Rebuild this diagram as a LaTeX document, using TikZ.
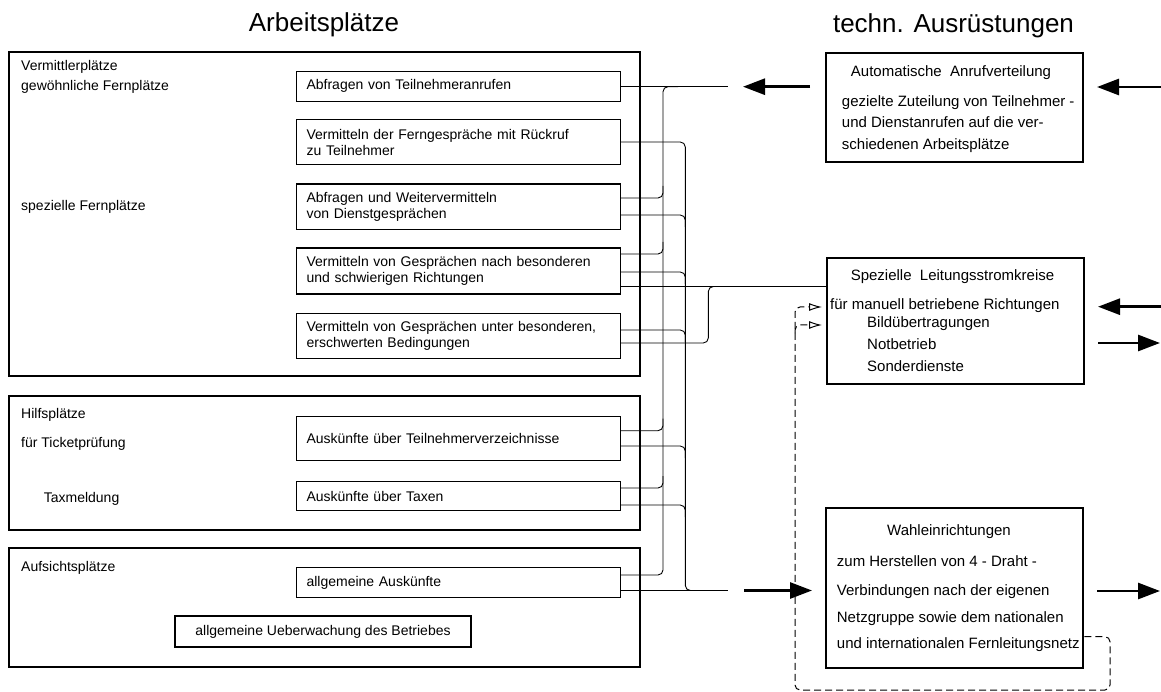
\documentclass[tikz,border=0pt]{standalone}
\usepackage{fontspec}
\setmainfont{Liberation Sans}
\usetikzlibrary{arrows.meta,calc}
\begin{document}
\begin{tikzpicture}[x=1pt,y=-1pt,
  bigbox/.style={draw, line width=2.2pt, anchor=north west, inner sep=0pt},
  rbox/.style={draw, line width=2.4pt, anchor=north west, inner sep=0pt},
  sbox/.style={draw, line width=1.1pt, anchor=north west, text width=304pt, inner xsep=10pt, inner ysep=0pt, align=left, font=\fontsize{14}{16}\selectfont},
  cbox/.style={draw, line width=1.1pt, inner sep=0pt, align=center, font=\fontsize{14}{16}\selectfont},
  lbl/.style={anchor=base west, inner sep=0pt, font=\fontsize{14}{16}\selectfont},
  rtxt/.style={anchor=base west, inner sep=0pt, font=\fontsize{15}{17}\selectfont},
  rhead/.style={anchor=base, inner sep=0pt, font=\fontsize{15}{17}\selectfont},
  title/.style={anchor=base, inner sep=0pt, font=\fontsize{26}{29}\selectfont},
  wire/.style={line width=0.9pt, rounded corners=5pt},
  bigarrow/.style={line width=2.8pt, arrows={-Triangle[length=22pt,width=16pt]}},
  dashline/.style={line width=1pt, dash pattern=on 7pt off 4pt, rounded corners=5pt},
  openarrow/.style={arrows={-Latex[open,length=13pt,width=8pt]}, shorten >=4pt}
]
\useasboundingbox (0,0) rectangle (1161,692);

% titles
\node[title] (t1) at (324,32) {Arbeitsplätze};
\node[title] (t2) at (953.5,33) {techn. Ausrüstungen};

% big boxes
\node[bigbox, minimum width=631pt, minimum height=324pt] (gA) at (8,51) {};
\node[bigbox, minimum width=631pt, minimum height=134pt] (gB) at (8,395) {};
\node[bigbox, minimum width=631pt, minimum height=119pt] (gC) at (8,547) {};

% left labels
\node[lbl] (l1) at (21,71) {Vermittlerplätze};
\node[lbl] (l2) at (21,91) {gewöhnliche Fernplätze};
\node[lbl] (l3) at (21,211) {spezielle Fernplätze};
\node[lbl] (l4) at (21,418) {Hilfsplätze};
\node[lbl] (l5) at (21,447) {für Ticketprüfung};
\node[lbl] (l6) at (43.6,502) {Taxmeldung};
\node[lbl] (l7) at (21,571) {Aufsichtsplätze};

% small boxes
\node[sbox, minimum height=30pt] (b1) at (296,70.7) {Abfragen von Teilnehmeranrufen};
\node[sbox, minimum height=45pt] (b2) at (296,119) {Vermitteln der Ferngespräche mit Rückruf\\zu Teilnehmer};
\node[sbox, minimum height=45.5pt] (b3) at (296,183.5) {Abfragen und Weitervermitteln\\von Dienstgesprächen};
\node[sbox, minimum height=46pt] (b4) at (296,247.5) {Vermitteln von Gesprächen nach besonderen\\und schwierigen Richtungen};
\node[sbox, minimum height=45pt] (b5) at (296,313) {Vermitteln von Gesprächen unter besonderen,\\erschwerten Bedingungen};
\node[sbox, minimum height=44.3pt] (tv) at (296,415.7) {Auskünfte über Teilnehmerverzeichnisse};
\node[sbox, minimum height=29pt] (tx) at (296,481) {Auskünfte über Taxen};
\node[sbox, minimum height=30pt] (aa) at (296,567) {allgemeine Auskünfte};
\node[cbox, minimum width=296pt, minimum height=31pt] (ub) at (323,631.5) {allgemeine Ueberwachung des Betriebes};

% right boxes
\node[rbox, minimum width=257pt, minimum height=109pt] (auto) at (825,51.7) {};
\node[rhead] (auto0) at (951,76.5) {Automatische\ \ Anrufverteilung};
\node[rtxt] (auto1) at (841.7,106.7) {gezielte Zuteilung von Teilnehmer -};
\node[rtxt] (auto2) at (841.7,128) {und Dienstanrufen auf die ver-};
\node[rtxt] (auto3) at (841.7,150) {schiedenen Arbeitsplätze};

\node[rbox, minimum width=257pt, minimum height=126pt] (spez) at (826,257) {};
\node[rhead] (spez0) at (952.5,281) {Spezielle\ \ Leitungsstromkreise};
\node[rtxt] (spez1) at (830,309) {für manuell betriebene Richtungen};
\node[rtxt] (spez2) at (867,327.7) {Bildübertragungen};
\node[rtxt] (spez3) at (867,349) {Notbetrieb};
\node[rtxt] (spez4) at (867,371) {Sonderdienste};

\node[rbox, minimum width=257pt, minimum height=160pt] (wahl) at (825,506.7) {};
\node[rhead] (wahl0) at (949,535) {Wahleinrichtungen};
\node[rtxt] (wahl1) at (836.7,566) {zum Herstellen von 4 - Draht -};
\node[rtxt] (wahl2) at (836.7,595.7) {Verbindungen nach der eigenen};
\node[rtxt] (wahl3) at (836.7,622.3) {Netzgruppe sowie dem nationalen};
\node[rtxt] (wahl4) at (836.7,648.3) {und internationalen Fernleitungsnetz};

% bus coordinates
\coordinate (busA) at (663,0);
\coordinate (busB) at (685.3,0);
\coordinate (busC) at (708.3,0);
\coordinate (endA) at (728,86.7);
\coordinate (endB) at (728,590.5);

% bus A (from Anrufverteilung)
\draw[wire] (b1.east |- 0,86.7) -- (endA);
\draw[wire] ($(busA |- 0,86.7)+(15,0)$) -- (busA |- 0,86.7) -- (busA |- 0,575) -- (aa.east |- 0,575);
\foreach \n/\y in {b3/198,b4/254,tv/430.7,tx/488}
  \draw[wire] (\n.east |- 0,\y) -- (busA |- 0,\y) -- ($(busA |- 0,\y)+(0,-12)$);

% bus B (to Wahleinrichtungen)
\draw[wire] (aa.east |- 0,590.5) -- (endB);
\draw[wire] (b2.east |- 0,142) -- (busB |- 0,142) -- (busB |- 0,590.5) -- ($(busB |- 0,590.5)+(15,0)$);
\foreach \n/\y in {b3/215,b4/272,b5/330,tv/446,tx/505}
  \draw[wire] (\n.east |- 0,\y) -- (busB |- 0,\y) -- ($(busB |- 0,\y)+(0,12)$);

% bus C (to Spezielle Leitungsstromkreise)
\draw[wire] (b4.east |- 0,286.5) -- (spez.west |- 0,286.5);
\draw[wire] (b5.east |- 0,343) -- (busC |- 0,343) -- (busC |- 0,286.5) -- ($(busC |- 0,286.5)+(15,0)$);

% thick arrows
\coordinate (a1s) at (810,86.7);   \coordinate (a1e) at (743,86.7);
\coordinate (a2s) at (1161,87);    \coordinate (a2e) at (1097,87);
\coordinate (a3s) at (1161,306.7); \coordinate (a3e) at (1098,306.7);
\coordinate (a4s) at (1098,343);   \coordinate (a4e) at (1160,343);
\coordinate (a5s) at (744,590.5);  \coordinate (a5e) at (812,590.5);
\coordinate (a6s) at (1097,591);   \coordinate (a6e) at (1160,591);
\draw[bigarrow] (a1s) -- (a1e);
\draw[bigarrow] (a2s) -- (a2e);
\draw[bigarrow] (a3s) -- (a3e);
\draw[bigarrow] (a4s) -- (a4e);
\draw[bigarrow] (a5s) -- (a5e);
\draw[bigarrow] (a6s) -- (a6e);

% dashed feedback
\coordinate (dR) at (1110,0);
\coordinate (dL) at (795,0);
\draw[dashline, openarrow] (wahl.east |- 0,636.7) -- (dR |- 0,636.7) -- (dR |- 0,690) -- (dL |- 0,690) -- (dL |- 0,307) -- (spez.west |- 0,307);
\draw[dashline, openarrow] (dL |- 0,333) -- (dL |- 0,325) -- (spez.west |- 0,325);
\end{tikzpicture}
\end{document}
